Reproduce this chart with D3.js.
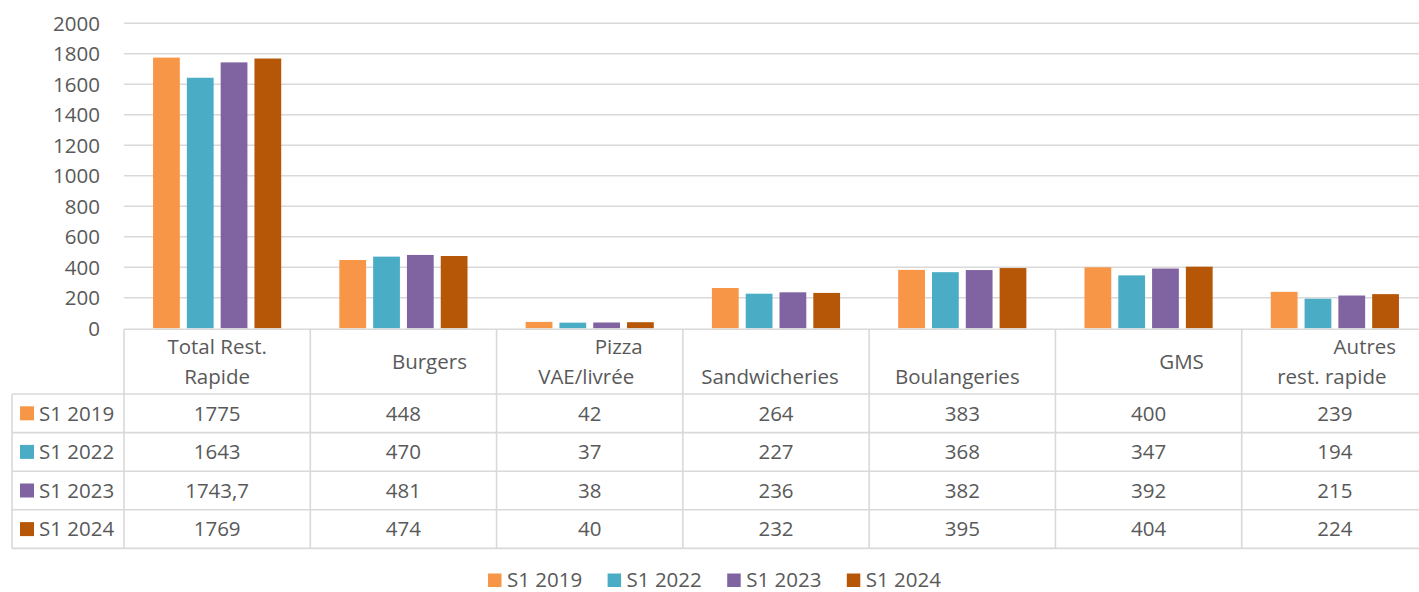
<!DOCTYPE html>
<html><head><meta charset="utf-8">
<script src="https://cdn.jsdelivr.net/npm/d3@7"></script>
<style>body{margin:0;background:#fff;overflow:hidden}svg text{font-family:"Open Sans",Lato,sans-serif;fill:#595959}</style>
</head><body><svg id="c" width="1419" height="592"></svg>
<script>
const categories = ["Total Rest. Rapide","Burgers","Pizza VAE/livrée","Sandwicheries","Boulangeries","GMS","Autres rest. rapide"];
const headerLines = [["Total Rest.","Rapide"],["Burgers"],["Pizza","VAE/livrée"],["","Sandwicheries"],["","Boulangeries"],["GMS"],["Autres","rest. rapide"]];
const seriesNames = ["S1 2019","S1 2022","S1 2023","S1 2024"];
const s2019 = [1775,448,42,264,383,400,239];
const s2022 = [1643,470,37,227,368,347,194];
const s2023 = [1743.7,481,38,236,382,392,215];
const s2024 = [1769,474,40,232,395,404,224];
const yTicks = [0,200,400,600,800,1000,1200,1400,1600,1800,2000];

// layout (not data)
const colors = ["#F79646","#4BACC6","#8064A2","#B65708"];
const headerShift = [[0,0],[26],[29,-3.5],[0,-6],[0,-5],[33],[30,-3]];
const values = [s2019,s2022,s2023,s2024];
const fmt = v => String(v).replace(".", ",");
const FS = "20.5px";

const svg = d3.select("#c");
const x = d3.scaleBand().domain(categories).range([124,1428]).padding(0);
const xs = d3.scaleBand().domain(seriesNames).range([0,x.bandwidth()]).paddingInner(0.208).paddingOuter(0.86);
const y = d3.scaleLinear().domain([0,2000]).range([328.3,23.3]);

svg.append("g").selectAll("line").data(yTicks.filter(t=>t>0)).join("line")
  .attr("x1",124).attr("x2",1428).attr("y1",d=>y(d)).attr("y2",d=>y(d))
  .attr("stroke","#D9D9D9").attr("stroke-width",1.5);

svg.append("g").selectAll("text").data(yTicks).join("text")
  .attr("x",100).attr("y",d=>y(d)).attr("dy","0.36em").attr("text-anchor","end")
  .style("font-size",FS).text(d=>d);

seriesNames.forEach((s,si)=>{
  svg.append("g").selectAll("rect").data(values[si]).join("rect")
    .attr("x",(d,i)=>x(categories[i])+xs(s)).attr("width",xs.bandwidth())
    .attr("y",d=>y(d)).attr("height",d=>y(0)-y(d)).attr("fill",colors[si]);
});

const tTop = 329.3, hBottom = 394, rowH = 38.6, tLeft = 12;
const rowsY = seriesNames.map((s,i)=>hBottom + i*rowH);
const tBottom = hBottom + 4*rowH;
const g = svg.append("g").attr("stroke","#D9D9D9").attr("stroke-width",1.6);
g.append("line").attr("x1",124).attr("x2",1428).attr("y1",tTop).attr("y2",tTop);
[...rowsY, tBottom].forEach(yy=>g.append("line").attr("x1",tLeft).attr("x2",1428).attr("y1",yy).attr("y2",yy));
g.append("line").attr("x1",tLeft).attr("x2",tLeft).attr("y1",hBottom).attr("y2",tBottom);
categories.forEach(c=>g.append("line").attr("x1",x(c)).attr("x2",x(c)).attr("y1",tTop).attr("y2",tBottom));
g.append("line").attr("x1",1428).attr("x2",1428).attr("y1",tTop).attr("y2",tBottom);

categories.forEach((c,i)=>{
  const lines = headerLines[i];
  const cx = x(c)+x.bandwidth()/2;
  lines.forEach((ln,li)=>{
    const yy = lines.length===1 ? 362 : (li===0?347:377);
    svg.append("text").attr("x",cx+headerShift[i][li]).attr("y",yy).attr("dy","0.36em")
      .attr("text-anchor","middle").style("font-size",FS).text(ln);
  });
});

seriesNames.forEach((s,si)=>{
  const cy = rowsY[si]+rowH/2;
  svg.append("rect").attr("x",20).attr("y",cy-7).attr("width",14).attr("height",14).attr("fill",colors[si]);
  svg.append("text").attr("x",39).attr("y",cy).attr("dy","0.36em").style("font-size",FS).text(s);
  svg.append("g").selectAll("text").data(values[si]).join("text")
    .attr("x",(d,i)=>x(categories[i])+x.bandwidth()/2).attr("y",cy).attr("dy","0.36em")
    .attr("text-anchor","middle").style("font-size",FS).text(d=>fmt(d));
});

const lg = svg.append("g");
seriesNames.forEach((s,si)=>{
  const lx = 488 + si*119.6;
  lg.append("rect").attr("x",lx).attr("y",573.5).attr("width",13.5).attr("height",13.5).attr("fill",colors[si]);
  lg.append("text").attr("x",lx+19).attr("y",579.5).attr("dy","0.36em").style("font-size",FS).text(s);
});
</script></body></html>
